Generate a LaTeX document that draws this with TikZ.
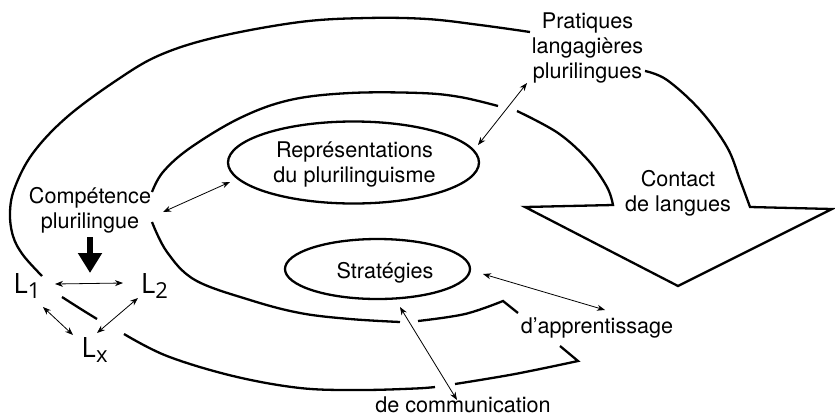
\documentclass[tikz,border=0pt]{standalone}
\usepackage{fontspec}
\setmainfont{TeX Gyre Heros}
\newfontfamily\Lfont{Open Sans}
\usetikzlibrary{arrows.meta,shapes.geometric}
\begin{document}
\begin{tikzpicture}[x=1pt,y=-1pt,
  ring/.style={line width=2.3pt, line join=miter, line cap=butt},
  dbl/.style={line width=0.8pt, {Stealth[length=8pt,width=6pt]}-{Stealth[length=8pt,width=6pt]}},
  txt/.style={font=\fontsize{21.6}{25}\selectfont, align=center, inner sep=0pt},
  lang/.style={font=\Lfont\fontsize{28}{30}\selectfont, inner sep=0pt, anchor=base},
  oval/.style={ellipse, draw, line width=2.3pt, inner sep=0pt}]
\useasboundingbox (0,0) rectangle (835,416);

% ellipses
\node[oval, minimum width=251pt, minimum height=82pt] (rep) at (353.5,162.5) {};
\node[oval, minimum width=185pt, minimum height=60pt] (str) at (377.5,269) {};

% outer ring
\draw[ring] plot[smooth, tension=0.6] coordinates {(42,276) (23,255) (13,236) (10,212) (15,187) (33,153) (67,117) (117,80) (160,55) (217,37) (300,22) (367,18) (427,19) (480,25) (530,32)};
\draw[ring] plot[smooth] coordinates {(62,297) (80,308.5) (97,319)};
\draw[ring] plot[smooth, tension=0.6] coordinates {(124,334) (167,356) (233,376) (300,388) (360,390) (415,388.5) (435,387)};
\draw[ring] (560,346) -- plot[smooth, tension=0.6] coordinates {(578,361) (515,374) (455,384)};

% middle ring
\draw[ring] (518,313) -- plot[smooth, tension=0.6] coordinates {(503,301) (465,314) (418,321)};
\draw[ring] plot[smooth, tension=0.6] coordinates {(400,322) (350,319) (300,313) (250,300) (195,280) (167,252) (152,222)};
\draw[ring] plot[smooth, tension=0.6] coordinates {(152,192) (163,172) (190,148) (240,118) (290,100) (350,93) (420,93) (460,97) (498,106)};

% big arrow (contact de langues)
\draw[ring] plot[smooth, tension=0.6] coordinates {(517,111) (558,133) (588,160) (607,187) (613,205)}
  -- (525,207) -- (678,286) -- (832,209)
  -- plot[smooth, tension=0.6] coordinates {(750,207) (740,180) (727,147) (700,110) (667,80) (645,71)};

% texts
\node[txt] (repT) at (354.5,164) {Représentations\\du plurilinguisme};
\node[txt, anchor=base] (strT) at (385,278) {Stratégies};
\node[txt] (prat) at (587.5,47.5) {Pratiques\\langagières\\plurilingues};
\node[txt] (cont) at (678,193) {Contact\\de langues};
\node[txt] (comp) at (90,210) {Compétence\\plurilingue};
\node[txt, anchor=base] (appr) at (597,333) {d’apprentissage};
\node[txt, anchor=base] (comm) at (463,412) {de communication};

\node[lang] (L1) at (27,293) {L\raisebox{-5pt}{\fontsize{22}{22}\selectfont 1}};
\node[lang] (L2) at (154.5,293) {L\raisebox{-5pt}{\fontsize{22}{22}\selectfont 2}};
\node[lang] (Lx) at (94.5,357) {L\raisebox{-5pt}{\fontsize{22}{22}\selectfont x}};

% thick arrow
\coordinate (tkS) at (90,237);
\coordinate (tkE) at (90,273);
\draw[line width=6pt, -{Triangle[length=20pt,width=23pt]}] (tkS) -- (tkE);

% thin double arrows
\coordinate (a1s) at (163,212); \coordinate (a1e) at (230,182);
\coordinate (a2s) at (478,145); \coordinate (a2e) at (527,83);
\coordinate (a3s) at (483,274); \coordinate (a3e) at (605,310);
\coordinate (a4s) at (400,307); \coordinate (a4e) at (457,400);
\coordinate (a5s) at (55,284);  \coordinate (a5e) at (123,283);
\coordinate (a6s) at (43,307);  \coordinate (a6e) at (73,335);
\coordinate (a7s) at (138,298); \coordinate (a7e) at (97,333);
\draw[dbl] (a1s) -- (a1e);
\draw[dbl] (a2s) -- (a2e);
\draw[dbl] (a3s) -- (a3e);
\draw[dbl] (a4s) -- (a4e);
\draw[dbl] (a5s) -- (a5e);
\draw[dbl] (a6s) -- (a6e);
\draw[dbl] (a7s) -- (a7e);
\end{tikzpicture}
\end{document}
